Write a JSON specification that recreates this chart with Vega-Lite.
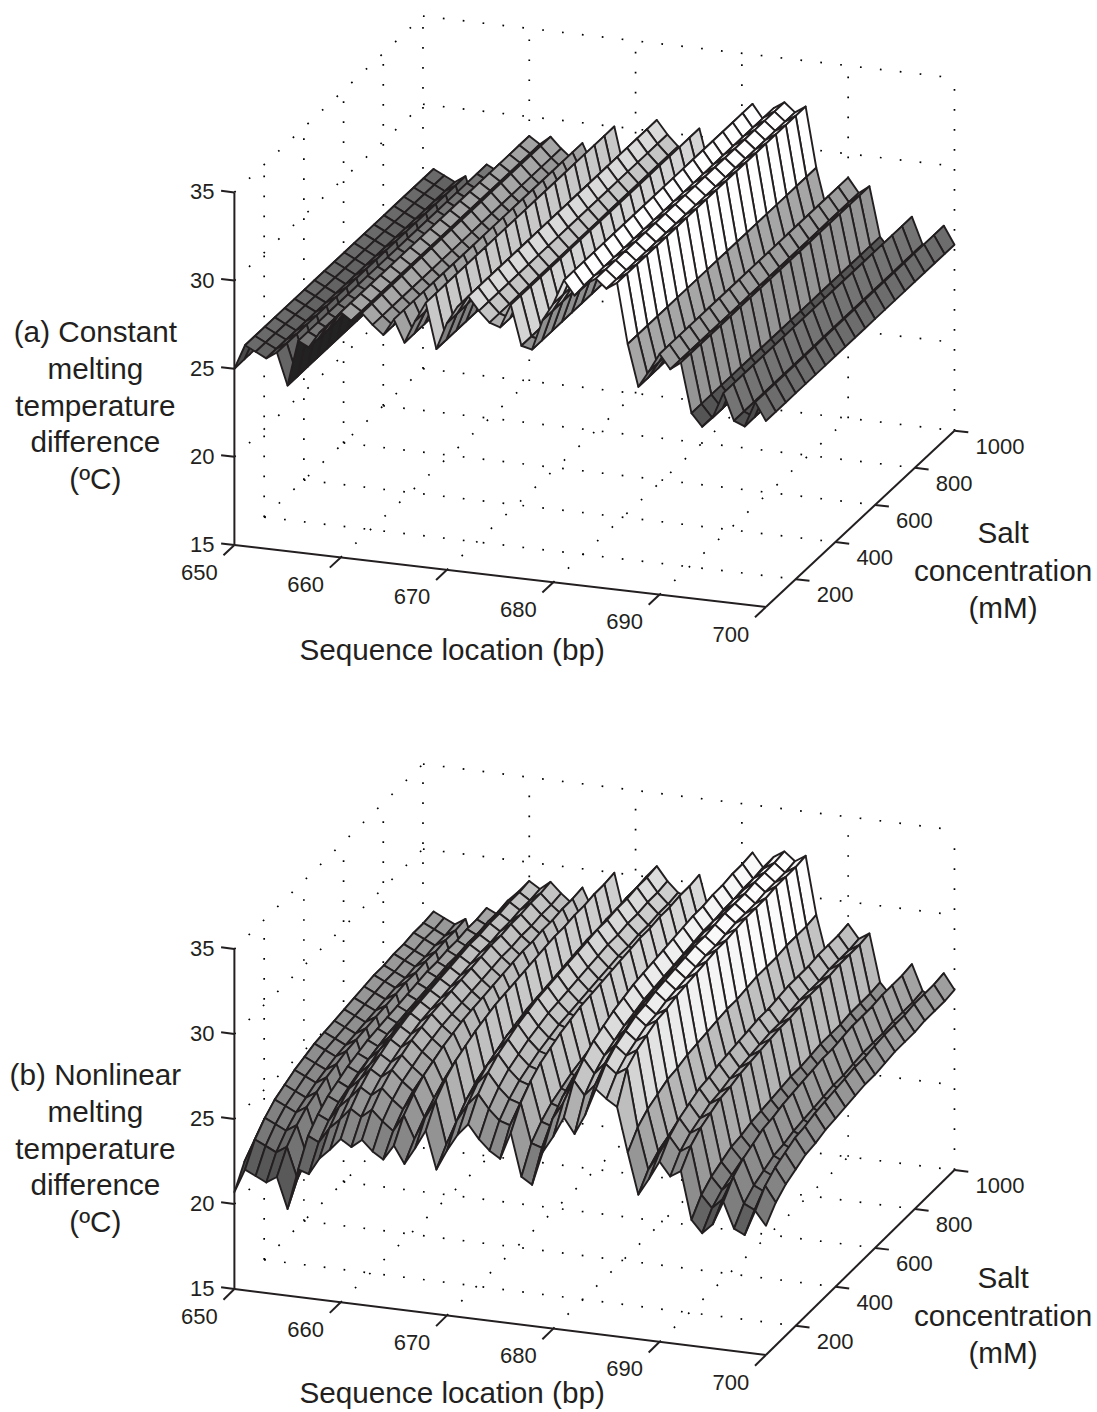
{
"$schema":"https://vega.github.io/schema/vega-lite/v6.json",
"width":1097,"height":1412,"padding":0,"autosize":{"type":"none"},"background":"white",
"config":{"view":{"stroke":null},"text":{"font":"Liberation Sans","color":"#231f20"}},
"datasets":{
"constant":[{"bp":650,"t":25},{"bp":651,"t":26.4},{"bp":652,"t":26.1},{"bp":653,"t":25.8},{"bp":654,"t":26.2},{"bp":655,"t":24.4},{"bp":656,"t":27},{"bp":657,"t":26.7},{"bp":658,"t":27.6},{"bp":659,"t":28.2},{"bp":660,"t":28.9},{"bp":661,"t":28.5},{"bp":662,"t":29},{"bp":663,"t":28.4},{"bp":664,"t":27.9},{"bp":665,"t":28.85},{"bp":666,"t":27.6},{"bp":667,"t":28.9},{"bp":668,"t":30},{"bp":669,"t":27.45},{"bp":670,"t":29},{"bp":671,"t":30},{"bp":672,"t":30.65},{"bp":673,"t":29.9},{"bp":674,"t":29.3},{"bp":675,"t":29.1},{"bp":676,"t":30.45},{"bp":677,"t":28.2},{"bp":678,"t":28.05},{"bp":679,"t":29.8},{"bp":680,"t":30.8},{"bp":681,"t":32.2},{"bp":682,"t":31.4},{"bp":683,"t":32.1},{"bp":684,"t":32.5},{"bp":685,"t":32},{"bp":686,"t":32.4},{"bp":687,"t":29},{"bp":688,"t":26.65},{"bp":689,"t":27.6},{"bp":690,"t":28.65},{"bp":691,"t":27.85},{"bp":692,"t":28.3},{"bp":693,"t":25.5},{"bp":694,"t":24.8},{"bp":695,"t":25.4},{"bp":696,"t":26.85},{"bp":697,"t":25.35},{"bp":698,"t":25.1},{"bp":699,"t":26.55},{"bp":700,"t":25.55}],
"nonlinear":[
{"bp":650,"t":[20.7,21.9,22.6,23.1,23.4,23.7,23.9,24.1,24.2,24.3,24.4,24.5,24.6,24.7,24.7,24.8,24.8,24.9,24.9,25]},
{"bp":651,"t":[22.1,23.3,24,24.5,24.8,25.1,25.3,25.5,25.6,25.7,25.8,25.9,26,26.1,26.1,26.2,26.2,26.3,26.3,26.4]},
{"bp":652,"t":[21.8,23,23.7,24.2,24.5,24.8,25,25.2,25.3,25.4,25.5,25.6,25.7,25.8,25.8,25.9,25.9,26,26,26.1]},
{"bp":653,"t":[21.5,22.7,23.4,23.9,24.2,24.5,24.7,24.9,25,25.1,25.2,25.3,25.4,25.5,25.5,25.6,25.6,25.7,25.7,25.8]},
{"bp":654,"t":[21.9,23.1,23.8,24.3,24.6,24.9,25.1,25.3,25.4,25.5,25.6,25.7,25.8,25.9,25.9,26,26,26.1,26.1,26.2]},
{"bp":655,"t":[20.1,21.3,22,22.5,22.8,23.1,23.3,23.5,23.6,23.7,23.8,23.9,24,24.1,24.1,24.2,24.2,24.3,24.3,24.4]},
{"bp":656,"t":[22.5,23.9,24.6,25.1,25.4,25.7,25.9,26.1,26.2,26.3,26.4,26.5,26.6,26.7,26.7,26.8,26.8,26.9,26.9,27]},
{"bp":657,"t":[22.3,23.6,24.3,24.8,25.1,25.4,25.6,25.8,25.9,26,26.1,26.2,26.3,26.4,26.4,26.5,26.5,26.6,26.6,26.7]},
{"bp":658,"t":[23.3,24.5,25.2,25.7,26,26.3,26.5,26.7,26.8,26.9,27,27.1,27.2,27.3,27.3,27.4,27.4,27.5,27.5,27.6]},
{"bp":659,"t":[23.9,25.1,25.8,26.3,26.6,26.9,27.1,27.3,27.4,27.5,27.6,27.7,27.8,27.9,27.9,28,28,28.1,28.1,28.2]},
{"bp":660,"t":[24.6,25.8,26.5,27,27.3,27.6,27.8,28,28.1,28.2,28.3,28.4,28.5,28.6,28.6,28.7,28.7,28.8,28.8,28.9]},
{"bp":661,"t":[24.2,25.4,26.1,26.6,26.9,27.2,27.4,27.6,27.7,27.8,27.9,28,28.1,28.2,28.2,28.3,28.3,28.4,28.4,28.5]},
{"bp":662,"t":[24.7,25.9,26.6,27.1,27.4,27.7,27.9,28.1,28.2,28.3,28.4,28.5,28.6,28.7,28.7,28.8,28.8,28.9,28.9,29]},
{"bp":663,"t":[24.1,25.3,26,26.5,26.8,27.1,27.3,27.5,27.6,27.7,27.8,27.9,28,28.1,28.1,28.2,28.2,28.3,28.3,28.4]},
{"bp":664,"t":[23.7,24.8,25.5,26,26.3,26.6,26.8,27,27.1,27.2,27.3,27.4,27.5,27.6,27.6,27.7,27.7,27.8,27.8,27.9]},
{"bp":665,"t":[24.6,25.8,26.5,27,27.3,27.6,27.8,28,28.1,28.2,28.3,28.4,28.5,28.6,28.6,28.7,28.7,28.8,28.8,28.9]},
{"bp":666,"t":[23.6,24.5,25.2,25.7,26,26.3,26.5,26.7,26.8,26.9,27,27.1,27.2,27.3,27.3,27.4,27.4,27.5,27.5,27.6]},
{"bp":667,"t":[24.6,25.8,26.5,27,27.3,27.6,27.8,28,28.1,28.2,28.3,28.4,28.5,28.6,28.6,28.7,28.7,28.8,28.8,28.9]},
{"bp":668,"t":[25.7,26.9,27.6,28.1,28.4,28.7,28.9,29.1,29.2,29.3,29.4,29.5,29.6,29.7,29.7,29.8,29.8,29.9,29.9,30]},
{"bp":669,"t":[23.5,24.4,25.1,25.6,25.9,26.2,26.4,26.6,26.7,26.8,26.9,27,27.1,27.2,27.2,27.3,27.3,27.4,27.4,27.5]},
{"bp":670,"t":[24.7,25.9,26.6,27.1,27.4,27.7,27.9,28.1,28.2,28.3,28.4,28.5,28.6,28.7,28.7,28.8,28.8,28.9,28.9,29]},
{"bp":671,"t":[25.7,26.9,27.6,28.1,28.4,28.7,28.9,29.1,29.2,29.3,29.4,29.5,29.6,29.7,29.7,29.8,29.8,29.9,29.9,30]},
{"bp":672,"t":[26.4,27.6,28.3,28.8,29.1,29.4,29.6,29.8,29.9,30,30.1,30.2,30.3,30.4,30.4,30.5,30.5,30.6,30.6,30.7]},
{"bp":673,"t":[25.6,26.8,27.5,28,28.3,28.6,28.8,29,29.1,29.2,29.3,29.4,29.5,29.6,29.6,29.7,29.7,29.8,29.8,29.9]},
{"bp":674,"t":[25,26.2,26.9,27.4,27.7,28,28.2,28.4,28.5,28.6,28.7,28.8,28.9,29,29,29.1,29.1,29.2,29.2,29.3]},
{"bp":675,"t":[24.6,26,26.7,27.2,27.5,27.8,28,28.2,28.3,28.4,28.5,28.6,28.7,28.8,28.8,28.9,28.9,29,29,29.1]},
{"bp":676,"t":[26.2,27.4,28.1,28.6,28.9,29.2,29.4,29.6,29.7,29.8,29.9,30,30.1,30.2,30.2,30.3,30.3,30.4,30.4,30.5]},
{"bp":677,"t":[23.7,25.1,25.8,26.3,26.6,26.9,27.1,27.3,27.4,27.5,27.6,27.7,27.8,27.9,27.9,28,28,28.1,28.1,28.2]},
{"bp":678,"t":[23.3,24.9,25.6,26.1,26.4,26.7,26.9,27.1,27.2,27.3,27.4,27.5,27.6,27.7,27.7,27.8,27.8,27.9,27.9,28]},
{"bp":679,"t":[25.3,26.7,27.4,27.9,28.2,28.5,28.7,28.9,29,29.1,29.2,29.3,29.4,29.5,29.5,29.6,29.6,29.7,29.7,29.8]},
{"bp":680,"t":[26.3,27.7,28.4,28.9,29.2,29.5,29.7,29.9,30,30.1,30.2,30.3,30.4,30.5,30.5,30.6,30.6,30.7,30.7,30.8]},
{"bp":681,"t":[27.5,29.1,29.8,30.3,30.6,30.9,31.1,31.3,31.4,31.5,31.6,31.7,31.8,31.9,31.9,32,32,32.1,32.1,32.2]},
{"bp":682,"t":[26.6,28.3,29,29.5,29.8,30.1,30.3,30.5,30.6,30.7,30.8,30.9,31,31.1,31.1,31.2,31.2,31.3,31.3,31.4]},
{"bp":683,"t":[27.8,29,29.7,30.2,30.5,30.8,31,31.2,31.3,31.4,31.5,31.6,31.7,31.8,31.8,31.9,31.9,32,32,32.1]},
{"bp":684,"t":[29.4,30.3,30.8,31.1,31.4,31.5,31.7,31.8,31.9,32,32.1,32.1,32.2,32.3,32.3,32.3,32.4,32.4,32.4,32.5]},
{"bp":685,"t":[28.9,29.8,30.3,30.6,30.9,31,31.2,31.3,31.4,31.5,31.6,31.6,31.7,31.8,31.8,31.8,31.9,31.9,31.9,32]},
{"bp":686,"t":[28.5,30.2,30.7,31,31.3,31.4,31.6,31.7,31.8,31.9,32,32,32.1,32.2,32.2,32.2,32.3,32.3,32.3,32.4]},
{"bp":687,"t":[25.9,26.8,27.3,27.6,27.9,28,28.2,28.3,28.4,28.5,28.6,28.6,28.7,28.8,28.8,28.8,28.9,28.9,28.9,29]},
{"bp":688,"t":[23.5,24.4,24.9,25.2,25.5,25.6,25.8,25.9,26,26.1,26.2,26.2,26.3,26.4,26.4,26.4,26.5,26.5,26.5,26.6]},
{"bp":689,"t":[24.5,25.4,25.9,26.2,26.5,26.6,26.8,26.9,27,27.1,27.2,27.2,27.3,27.4,27.4,27.4,27.5,27.5,27.5,27.6]},
{"bp":690,"t":[25.6,26.5,27,27.3,27.6,27.7,27.9,28,28.1,28.2,28.3,28.3,28.4,28.5,28.5,28.5,28.6,28.6,28.6,28.7]},
{"bp":691,"t":[24.8,25.7,26.2,26.5,26.8,26.9,27.1,27.2,27.3,27.4,27.5,27.5,27.6,27.7,27.7,27.7,27.8,27.8,27.8,27.9]},
{"bp":692,"t":[25.2,26.1,26.6,26.9,27.2,27.3,27.5,27.6,27.7,27.8,27.9,27.9,28,28.1,28.1,28.1,28.2,28.2,28.2,28.3]},
{"bp":693,"t":[22.4,23.3,23.8,24.1,24.4,24.5,24.7,24.8,24.9,25,25.1,25.1,25.2,25.3,25.3,25.3,25.4,25.4,25.4,25.5]},
{"bp":694,"t":[21.7,22.6,23.1,23.4,23.7,23.8,24,24.1,24.2,24.3,24.4,24.4,24.5,24.6,24.6,24.6,24.7,24.7,24.7,24.8]},
{"bp":695,"t":[22.3,23.2,23.7,24,24.3,24.4,24.6,24.7,24.8,24.9,25,25,25.1,25.2,25.2,25.2,25.3,25.3,25.3,25.4]},
{"bp":696,"t":[23.7,24.6,25.1,25.4,25.7,25.8,26,26.1,26.2,26.3,26.4,26.4,26.5,26.6,26.6,26.6,26.7,26.7,26.7,26.8]},
{"bp":697,"t":[22.2,23.1,23.6,23.9,24.2,24.3,24.5,24.6,24.7,24.8,24.9,24.9,25,25.1,25.1,25.1,25.2,25.2,25.2,25.3]},
{"bp":698,"t":[21.9,22.8,23.3,23.6,23.9,24,24.2,24.3,24.4,24.5,24.6,24.6,24.7,24.8,24.8,24.8,24.9,24.9,24.9,25]},
{"bp":699,"t":[23.4,24.3,24.8,25.1,25.4,25.5,25.7,25.8,25.9,26,26.1,26.1,26.2,26.3,26.3,26.3,26.4,26.4,26.4,26.5]},
{"bp":700,"t":[22.6,23.4,23.9,24.2,24.5,24.6,24.8,24.9,25,25.1,25.2,25.2,25.3,25.4,25.4,25.4,25.5,25.5,25.5,25.6]}
],
"grid":[
{"l":1,"bp":[660,660],"s":[50,1000],"t":[15,15]},{"l":2,"bp":[670,670],"s":[50,1000],"t":[15,15]},{"l":3,"bp":[680,680],"s":[50,1000],"t":[15,15]},{"l":4,"bp":[690,690],"s":[50,1000],"t":[15,15]},
{"l":5,"bp":[650,700],"s":[200,200],"t":[15,15]},{"l":6,"bp":[650,700],"s":[400,400],"t":[15,15]},{"l":7,"bp":[650,700],"s":[600,600],"t":[15,15]},{"l":8,"bp":[650,700],"s":[800,800],"t":[15,15]},{"l":9,"bp":[650,700],"s":[1000,1000],"t":[15,15]},
{"l":10,"bp":[650,650],"s":[1000,1000],"t":[15,35]},{"l":11,"bp":[660,660],"s":[1000,1000],"t":[15,35]},{"l":12,"bp":[670,670],"s":[1000,1000],"t":[15,35]},{"l":13,"bp":[680,680],"s":[1000,1000],"t":[15,35]},{"l":14,"bp":[690,690],"s":[1000,1000],"t":[15,35]},{"l":15,"bp":[700,700],"s":[1000,1000],"t":[15,35]},
{"l":16,"bp":[650,700],"s":[1000,1000],"t":[20,20]},{"l":17,"bp":[650,700],"s":[1000,1000],"t":[25,25]},{"l":18,"bp":[650,700],"s":[1000,1000],"t":[30,30]},{"l":19,"bp":[650,700],"s":[1000,1000],"t":[35,35]},
{"l":20,"bp":[650,650],"s":[200,200],"t":[15,35]},{"l":21,"bp":[650,650],"s":[400,400],"t":[15,35]},{"l":22,"bp":[650,650],"s":[600,600],"t":[15,35]},{"l":23,"bp":[650,650],"s":[800,800],"t":[15,35]},
{"l":24,"bp":[650,650],"s":[50,1000],"t":[20,20]},{"l":25,"bp":[650,650],"s":[50,1000],"t":[25,25]},{"l":26,"bp":[650,650],"s":[50,1000],"t":[30,30]},{"l":27,"bp":[650,650],"s":[50,1000],"t":[35,35]},
{"l":28,"bp":[650,650],"s":[200,1000],"t":[15,15]}
],
"axes":[
{"l":1,"bp":[650,700],"s":[50,50],"t":[15,15]},{"l":2,"bp":[700,700],"s":[50,1000],"t":[15,15]},{"l":3,"bp":[650,650],"s":[50,50],"t":[15,35]},
{"l":4,"bp":[650,650],"s":[50,-5],"t":[15,15]},{"l":5,"bp":[660,660],"s":[50,-5],"t":[15,15]},{"l":6,"bp":[670,670],"s":[50,-5],"t":[15,15]},{"l":7,"bp":[680,680],"s":[50,-5],"t":[15,15]},{"l":8,"bp":[690,690],"s":[50,-5],"t":[15,15]},{"l":9,"bp":[700,700],"s":[50,-5],"t":[15,15]},
{"l":10,"bp":[700,701.3],"s":[200,200],"t":[15,15]},{"l":11,"bp":[700,701.3],"s":[400,400],"t":[15,15]},{"l":12,"bp":[700,701.3],"s":[600,600],"t":[15,15]},{"l":13,"bp":[700,701.3],"s":[800,800],"t":[15,15]},{"l":14,"bp":[700,701.3],"s":[1000,1000],"t":[15,15]},
{"l":15,"bp":[650,648.75],"s":[50,50],"t":[15,15]},{"l":16,"bp":[650,648.75],"s":[50,50],"t":[20,20]},{"l":17,"bp":[650,648.75],"s":[50,50],"t":[25,25]},{"l":18,"bp":[650,648.75],"s":[50,50],"t":[30,30]},{"l":19,"bp":[650,648.75],"s":[50,50],"t":[35,35]}
],
"labels":[
{"kind":"bp","label":"650","bp":650,"s":50,"t":15},{"kind":"bp","label":"660","bp":660,"s":50,"t":15},{"kind":"bp","label":"670","bp":670,"s":50,"t":15},{"kind":"bp","label":"680","bp":680,"s":50,"t":15},{"kind":"bp","label":"690","bp":690,"s":50,"t":15},{"kind":"bp","label":"700","bp":700,"s":50,"t":15},
{"kind":"salt","label":"200","bp":700,"s":200,"t":15},{"kind":"salt","label":"400","bp":700,"s":400,"t":15},{"kind":"salt","label":"600","bp":700,"s":600,"t":15},{"kind":"salt","label":"800","bp":700,"s":800,"t":15},{"kind":"salt","label":"1000","bp":700,"s":1000,"t":15},
{"kind":"temp","label":"15","bp":650,"s":50,"t":15},{"kind":"temp","label":"20","bp":650,"s":50,"t":20},{"kind":"temp","label":"25","bp":650,"s":50,"t":25},{"kind":"temp","label":"30","bp":650,"s":50,"t":30},{"kind":"temp","label":"35","bp":650,"s":50,"t":35}
],
"titles":[
{"panel":"a","kind":"z","label":"(a) Constant\nmelting\ntemperature\ndifference\n(ºC)","bp":650,"s":50,"t":27.03},
{"panel":"b","kind":"z","label":"(b) Nonlinear\nmelting\ntemperature\ndifference\n(ºC)","bp":650,"s":50,"t":27.53},
{"panel":"a","kind":"x","label":"Sequence location (bp)","bp":675,"s":50,"t":10.75},
{"panel":"b","kind":"x","label":"Sequence location (bp)","bp":675,"s":50,"t":10.76},
{"panel":"a","kind":"y","label":"Salt\nconcentration\n(mM)","bp":700,"s":600,"t":13.35},
{"panel":"b","kind":"y","label":"Salt\nconcentration\n(mM)","bp":700,"s":600,"t":13.17}
]
},
"encoding":{
"x":{"field":"px","type":"quantitative","scale":{"domain":[0,1097],"nice":false,"zero":false},"axis":null},
"y":{"field":"py","type":"quantitative","scale":{"domain":[1412,0],"nice":false,"zero":false},"axis":null}
},
"resolve":{"scale":{"fill":"independent"}},
"layer":[
{"data":{"name":"grid"},
"transform":[{"flatten":["bp","s","t"]},{"calculate":"['a','b']","as":"panel"},{"flatten":["panel"]},{"calculate":"datum.panel+datum.l","as":"id"},
{"calculate":"234.4+10.63*(datum.bp-650)+0.1985*(datum.s-50)","as":"px"},
{"calculate":"datum.panel=='a'?545+1.24*(datum.bp-650)-0.1856*(datum.s-50)-17.63*(datum.t-15):1289+1.32*(datum.bp-650)-0.1947*(datum.s-50)-17*(datum.t-15)","as":"py"}],
"mark":{"type":"line","stroke":"#000000","strokeWidth":1.7,"strokeDash":[1.7,18.3],"clip":false},
"encoding":{"detail":{"field":"id","type":"nominal"},"order":{"value":null}}},
{"data":{"name":"axes"},
"transform":[{"flatten":["bp","s","t"]},{"calculate":"['a','b']","as":"panel"},{"flatten":["panel"]},{"calculate":"datum.panel+datum.l","as":"id"},
{"calculate":"234.4+10.63*(datum.bp-650)+0.1985*(datum.s-50)","as":"px"},
{"calculate":"datum.panel=='a'?545+1.24*(datum.bp-650)-0.1856*(datum.s-50)-17.63*(datum.t-15):1289+1.32*(datum.bp-650)-0.1947*(datum.s-50)-17*(datum.t-15)","as":"py"}],
"mark":{"type":"line","stroke":"#231f20","strokeWidth":2},
"encoding":{"detail":{"field":"id","type":"nominal"},"order":{"value":null}}},
{"data":{"name":"constant"},
"transform":[{"window":[{"op":"lead","field":"t","as":"tn"}],"sort":[{"field":"bp"}]},{"filter":"datum.tn!=null"},
{"calculate":"[950,900,850,800,750,700,650,600,550,500,450,400,350,300,250,200,150,100,50]","as":"sl"},{"flatten":["sl"]},
{"calculate":"[0,1,2,3]","as":"v"},{"flatten":["v"]},
{"calculate":"datum.v==1||datum.v==2?datum.bp+1:datum.bp","as":"qb"},
{"calculate":"datum.v>=2?datum.sl+50:datum.sl","as":"qs"},
{"calculate":"datum.v==1||datum.v==2?datum.tn:datum.t","as":"qt"},
{"calculate":"234.4+10.63*(datum.qb-650)+0.1985*(datum.qs-50)","as":"px"},
{"calculate":"545+1.24*(datum.qb-650)-0.1856*(datum.qs-50)-17.63*(datum.qt-15)","as":"py"},
{"calculate":"datum.bp*10000+datum.sl","as":"id"}],
"mark":{"type":"line","interpolate":"linear-closed","stroke":"#231f20","strokeWidth":1.9,"strokeJoin":"round"},
"encoding":{"detail":{"field":"id","type":"nominal"},"order":{"value":null},
"fill":{"field":"t","type":"quantitative","scale":{"domain":[24.4,25,26.4,28.9,30,32],"range":["#222222","#4a4a4a","#6a6a6a","#a3a3a3","#c8c8c8","#ffffff"],"clamp":true,"nice":false,"zero":false},"legend":null}}},
{"data":{"name":"nonlinear"},
"transform":[{"window":[{"op":"lead","field":"t","as":"tn"}],"sort":[{"field":"bp"}]},{"filter":"datum.tn!=null"},
{"calculate":"[18,17,16,15,14,13,12,11,10,9,8,7,6,5,4,3,2,1,0]","as":"i"},{"flatten":["i"]},
{"calculate":"[0,1,2,3]","as":"v"},{"flatten":["v"]},
{"calculate":"datum.v==1||datum.v==2?datum.bp+1:datum.bp","as":"qb"},
{"calculate":"50+50*(datum.v>=2?datum.i+1:datum.i)","as":"qs"},
{"calculate":"datum.v==0?datum.t[datum.i]:datum.v==1?datum.tn[datum.i]:datum.v==2?datum.tn[datum.i+1]:datum.t[datum.i+1]","as":"qt"},
{"calculate":"datum.t[datum.i]","as":"c"},
{"calculate":"234.4+10.63*(datum.qb-650)+0.1985*(datum.qs-50)","as":"px"},
{"calculate":"1289+1.32*(datum.qb-650)-0.1947*(datum.qs-50)-17*(datum.qt-15)","as":"py"},
{"calculate":"datum.bp*100+datum.i","as":"id"}],
"mark":{"type":"line","interpolate":"linear-closed","stroke":"#231f20","strokeWidth":1.9,"strokeJoin":"round"},
"encoding":{"detail":{"field":"id","type":"nominal"},"order":{"value":null},
"fill":{"field":"c","type":"quantitative","scale":{"domain":[20,21.7,23.5,25.5,28,30,32.4],"range":["#404040","#555555","#7c7c7c","#909090","#b8b8b8","#d0d0d0","#ffffff"],"clamp":true,"nice":false,"zero":false},"legend":null}}},
{"data":{"name":"labels"},
"transform":[{"filter":"datum.kind=='bp'"},{"calculate":"['a','b']","as":"panel"},{"flatten":["panel"]},
{"calculate":"234.4+10.63*(datum.bp-650)+0.1985*(datum.s-50)","as":"px"},
{"calculate":"datum.panel=='a'?545+1.24*(datum.bp-650)-0.1856*(datum.s-50)-17.63*(datum.t-15):1289+1.32*(datum.bp-650)-0.1947*(datum.s-50)-17*(datum.t-15)","as":"py"}],
"mark":{"type":"text","fontSize":22,"align":"center","baseline":"middle","dx":-35,"dy":27.5},
"encoding":{"text":{"field":"label"}}},
{"data":{"name":"labels"},
"transform":[{"filter":"datum.kind=='salt'"},{"calculate":"['a','b']","as":"panel"},{"flatten":["panel"]},
{"calculate":"234.4+10.63*(datum.bp-650)+0.1985*(datum.s-50)","as":"px"},
{"calculate":"datum.panel=='a'?545+1.24*(datum.bp-650)-0.1856*(datum.s-50)-17.63*(datum.t-15):1289+1.32*(datum.bp-650)-0.1947*(datum.s-50)-17*(datum.t-15)","as":"py"}],
"mark":{"type":"text","fontSize":22,"align":"left","baseline":"middle","dx":21,"dy":16},
"encoding":{"text":{"field":"label"}}},
{"data":{"name":"labels"},
"transform":[{"filter":"datum.kind=='temp'"},{"calculate":"['a','b']","as":"panel"},{"flatten":["panel"]},
{"calculate":"234.4+10.63*(datum.bp-650)+0.1985*(datum.s-50)","as":"px"},
{"calculate":"datum.panel=='a'?545+1.24*(datum.bp-650)-0.1856*(datum.s-50)-17.63*(datum.t-15):1289+1.32*(datum.bp-650)-0.1947*(datum.s-50)-17*(datum.t-15)","as":"py"}],
"mark":{"type":"text","fontSize":22,"align":"right","baseline":"middle","dx":-20,"dy":0},
"encoding":{"text":{"field":"label"}}},
{"data":{"name":"titles"},
"transform":[{"filter":"datum.kind=='z'"},
{"calculate":"234.4+10.63*(datum.bp-650)+0.1985*(datum.s-50)","as":"px"},
{"calculate":"datum.panel=='a'?545+1.24*(datum.bp-650)-0.1856*(datum.s-50)-17.63*(datum.t-15):1289+1.32*(datum.bp-650)-0.1947*(datum.s-50)-17*(datum.t-15)","as":"py"}],
"mark":{"type":"text","fontSize":29.7,"align":"center","baseline":"middle","lineBreak":"\n","lineHeight":36.8,"dx":-139},
"encoding":{"text":{"field":"label"}}},
{"data":{"name":"titles"},
"transform":[{"filter":"datum.kind=='x'"},
{"calculate":"234.4+10.63*(datum.bp-650)+0.1985*(datum.s-50)","as":"px"},
{"calculate":"datum.panel=='a'?545+1.24*(datum.bp-650)-0.1856*(datum.s-50)-17.63*(datum.t-15):1289+1.32*(datum.bp-650)-0.1947*(datum.s-50)-17*(datum.t-15)","as":"py"}],
"mark":{"type":"text","fontSize":29.7,"align":"center","baseline":"middle","dx":-48},
"encoding":{"text":{"field":"label"}}},
{"data":{"name":"titles"},
"transform":[{"filter":"datum.kind=='y'"},
{"calculate":"234.4+10.63*(datum.bp-650)+0.1985*(datum.s-50)","as":"px"},
{"calculate":"datum.panel=='a'?545+1.24*(datum.bp-650)-0.1856*(datum.s-50)-17.63*(datum.t-15):1289+1.32*(datum.bp-650)-0.1947*(datum.s-50)-17*(datum.t-15)","as":"py"}],
"mark":{"type":"text","fontSize":29.7,"align":"center","baseline":"middle","lineBreak":"\n","lineHeight":37.5,"dx":128},
"encoding":{"text":{"field":"label"}}}
]
}
